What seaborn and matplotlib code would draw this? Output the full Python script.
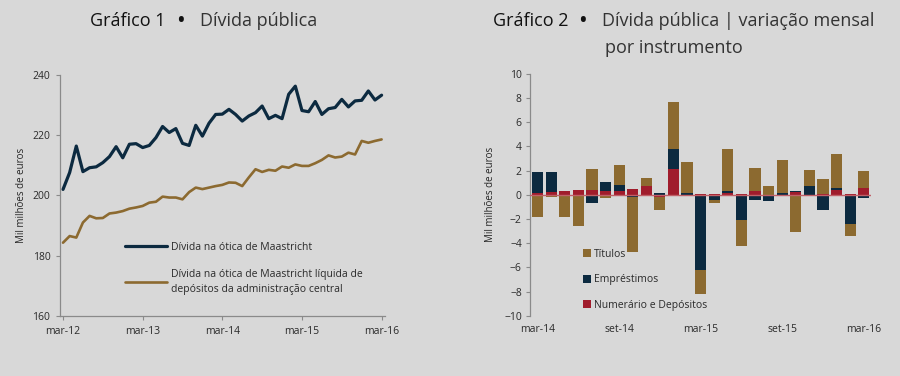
import seaborn as sns
import matplotlib.pyplot as plt
import pandas as pd
import numpy as np
from matplotlib.lines import Line2D

# Gráfico 1 - monthly, mar-12 .. mar-16
maastricht = [202.0, 207.6, 216.4, 207.9, 209.2, 209.5, 210.9, 212.9, 216.2, 212.5,
              217.0, 217.2, 215.9, 216.6, 219.2, 222.9, 220.9, 222.2, 217.3, 216.6,
              223.3, 219.7, 224.0, 226.9, 227.0, 228.6, 226.9, 224.7, 226.4, 227.5,
              229.7, 225.5, 226.6, 225.5, 233.6, 236.3, 228.2, 227.8, 231.2, 226.9,
              228.8, 229.2, 231.9, 229.4, 231.4, 231.6, 234.7, 231.7, 233.3]
liquida = [184.3, 186.5, 186.0, 191.0, 193.2, 192.4, 192.5, 194.0, 194.3, 194.8,
           195.6, 196.0, 196.5, 197.6, 197.9, 199.6, 199.3, 199.3, 198.7, 201.1,
           202.6, 202.1, 202.6, 203.1, 203.5, 204.3, 204.2, 203.1, 206.0, 208.7,
           207.8, 208.5, 208.2, 209.6, 209.2, 210.3, 209.8, 209.8, 210.7, 211.8,
           213.3, 212.6, 212.9, 214.2, 213.6, 218.1, 217.5, 218.1, 218.6]
ticks1 = ['mar-12', 'mar-13', 'mar-14', 'mar-15', 'mar-16']

# Gráfico 2 - monthly variation, mar-14 .. mar-16
titulos = [-1.85, -0.2, -1.8, -2.55, 1.75, -0.25, 1.7, -4.5, 0.65, -1.05, 3.9, 2.55, -2.0,
           -0.25, 3.45, -2.15, 1.85, 0.7, 2.75, -3.1, 1.35, 1.3, 2.85, -1.0, 1.4]
emprestimos = [1.7, 1.65, 0.0, 0.0, -0.7, 0.75, 0.5, -0.2, 0.0, 0.15, 1.6, 0.15, -6.2,
               -0.45, 0.15, -2.1, -0.4, -0.55, 0.15, 0.1, 0.7, -1.25, 0.15, -2.4, -0.3]
numerario = [0.15, 0.2, 0.3, 0.4, 0.4, 0.35, 0.3, 0.5, 0.75, -0.2, 2.15, 0.0, 0.05,
             0.1, 0.15, 0.05, 0.35, 0.0, 0.0, 0.2, 0.0, 0.05, 0.4, 0.05, 0.55]
ticks2 = ['mar-14', 'set-14', 'mar-15', 'set-15', 'mar-16']

navy = '#0c2a40'
gold = '#8c6a30'
red = '#a01c2c'
bg = '#d8d8d8'
txt = '#2a2a2a'
spine = '#8a8a8a'

sns.set_theme(style='white')
plt.rcParams['font.family'] = ['Open Sans', 'DejaVu Sans']
plt.rcParams['text.color'] = txt
plt.rcParams['xtick.color'] = txt
plt.rcParams['ytick.color'] = txt

fig = plt.figure(figsize=(9, 3.76), dpi=100, facecolor=bg)
ax1 = fig.add_axes([0.0667, 0.16, 0.361, 0.6405], facecolor=bg)
ax2 = fig.add_axes([0.589, 0.16, 0.379, 0.6436], facecolor=bg)

# ---- chart 1
df1 = pd.DataFrame({'mes': np.arange(len(maastricht)),
                    'Dívida na ótica de Maastricht': maastricht,
                    'liquida': liquida})
sns.lineplot(data=df1, x='mes', y='Dívida na ótica de Maastricht', ax=ax1,
             color=navy, lw=2.3)
sns.lineplot(data=df1, x='mes', y='liquida', ax=ax1, color=gold, lw=1.9)
ax1.set_xlim(-0.45, 48.5)
ax1.set_ylim(160, 240)
ax1.set_yticks([160, 180, 200, 220, 240])
ax1.set_xticks(np.arange(0, 49, 12))
ax1.set_xticklabels(ticks1)
ax1.set_xlabel('')
ax1.set_ylabel('Mil milhões de euros', fontsize=7, labelpad=4)
ax1.tick_params(labelsize=7.5, length=3, width=0.8, color=spine, left=True, bottom=True, pad=4)
for s in ['top', 'right']:
    ax1.spines[s].set_visible(False)
for s in ['left', 'bottom']:
    ax1.spines[s].set_color(spine)
    ax1.spines[s].set_linewidth(0.9)

h1 = [Line2D([], [], color=navy, lw=2.3), Line2D([], [], color=gold, lw=1.9)]
leg1 = ax1.legend(h1, ['Dívida na ótica de Maastricht',
                       'Dívida na ótica de Maastricht líquida de\ndepósitos da administração central'],
                  loc='upper left', bbox_to_anchor=(0.2, 0.307), frameon=False, fontsize=7.5,
                  handlelength=4.0, handletextpad=0.4, labelspacing=1.5, borderpad=0,
                  borderaxespad=0)
for t in leg1.get_texts():
    t.set_linespacing(1.55)

# ---- chart 2
x = np.arange(len(titulos))
pos = np.zeros(len(x))
neg = np.zeros(len(x))
handles = []
for vals, col, lab in [(numerario, red, 'Numerário e Depósitos'),
                       (emprestimos, navy, 'Empréstimos'),
                       (titulos, gold, 'Títulos')]:
    v = np.array(vals)
    base = np.where(v >= 0, pos, neg)
    b = ax2.bar(x, v, width=0.82, bottom=base, color=col, label=lab, linewidth=0)
    handles.append(b)
    pos = pos + np.where(v >= 0, v, 0)
    neg = neg + np.where(v < 0, v, 0)
ax2.axhline(0, color='#c06068', lw=1.0, zorder=3)
ax2.set_xlim(-0.55, 24.55)
ax2.set_ylim(-10, 10)
ax2.set_yticks(np.arange(-10, 11, 2))
ax2.set_xticks(np.arange(0, 25, 6))
ax2.set_xticklabels(ticks2)
ax2.set_ylabel('Mil milhões de euros', fontsize=7, labelpad=6)
ax2.tick_params(axis='y', labelsize=7.5, length=3, width=0.8, color=spine, left=True, pad=3)
ax2.tick_params(axis='x', labelsize=7.5, length=0, pad=6)
for s in ['top', 'right', 'bottom']:
    ax2.spines[s].set_visible(False)
ax2.spines['left'].set_color(spine)
ax2.spines['left'].set_linewidth(0.9)
ax2.legend(handles[::-1], ['Títulos', 'Empréstimos', 'Numerário e Depósitos'],
           loc='lower left', bbox_to_anchor=(0.155, 0.02), frameon=False, fontsize=7.5,
           handlelength=0.8, handleheight=0.8, handletextpad=0.3, labelspacing=1.4,
           borderpad=0, borderaxespad=0)

# ---- titles
fig.text(0.1, 0.93, 'Gráfico 1', fontsize=13, color='#111111')
fig.text(0.197, 0.93, '•', fontsize=13, color='#111111', fontweight='bold')
fig.text(0.222, 0.93, 'Dívida pública', fontsize=13, color='#333333')
fig.text(0.548, 0.93, 'Gráfico 2', fontsize=13, color='#111111')
fig.text(0.643, 0.93, '•', fontsize=13, color='#111111', fontweight='bold')
fig.text(0.669, 0.93, 'Dívida pública | variação mensal', fontsize=13, color='#333333')
fig.text(0.672, 0.86, 'por instrumento', fontsize=13, color='#333333')

fig.savefig('out.png', dpi=100, facecolor=bg)
